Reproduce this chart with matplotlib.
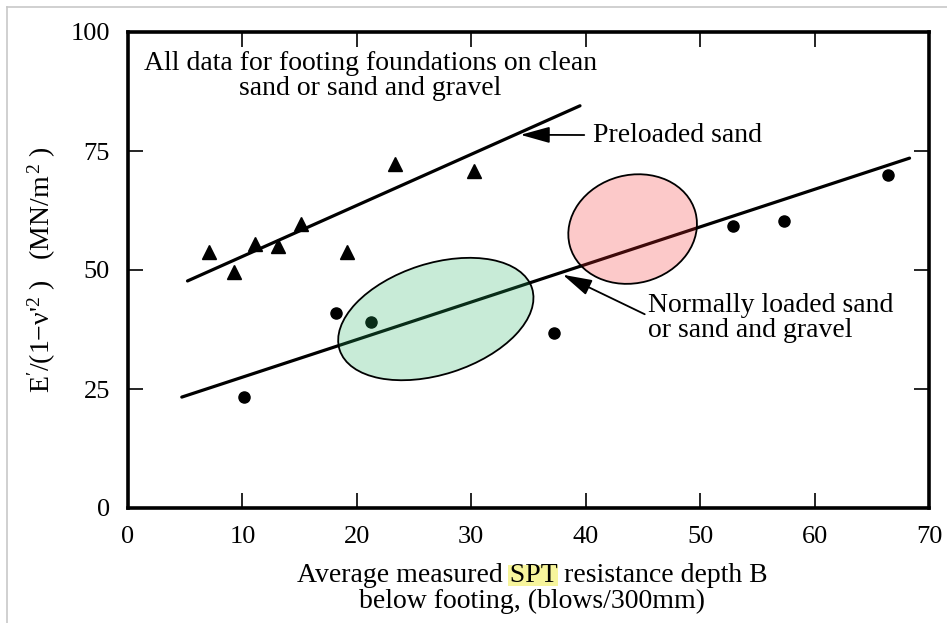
import matplotlib
matplotlib.use("Agg")
import matplotlib.pyplot as plt
from matplotlib.patches import Ellipse, Rectangle
from matplotlib.lines import Line2D
import matplotlib.transforms as mtransforms

plt.rcParams['font.family'] = ['Liberation Serif', 'DejaVu Serif']
plt.rcParams['mathtext.fontset'] = 'custom'
plt.rcParams['mathtext.rm'] = 'Liberation Serif'
plt.rcParams['mathtext.it'] = 'Liberation Serif:italic'

# ---- data ----
pre_spt = [7.1, 9.3, 11.1, 13.1, 15.1, 19.1, 23.3, 30.2]
pre_mod = [53.8, 49.6, 55.5, 55.0, 59.7, 53.8, 72.3, 70.8]
norm_spt = [10.1, 18.2, 21.2, 37.2, 52.9, 57.3, 66.4]
norm_mod = [23.3, 41.0, 39.1, 36.8, 59.2, 60.3, 70.0]
pre_line_x = [5.2, 39.5]
pre_line_y = [47.7, 84.5]
norm_line_x = [4.7, 68.3]
norm_line_y = [23.3, 73.5]
xticks = [0, 10, 20, 30, 40, 50, 60, 70]
yticks = [0, 25, 50, 75, 100]

FS = 20
W, H = 947, 623
fig = plt.figure(figsize=(W / 100, H / 100), dpi=100)
ax = fig.add_axes([128 / W, 1 - 508 / H, (929 - 128) / W, (508 - 32) / H])

ax.plot(pre_line_x, pre_line_y, color='black', lw=2.3, solid_capstyle='round', zorder=2)
ax.plot(norm_line_x, norm_line_y, color='black', lw=2.3, solid_capstyle='round', zorder=2)
ax.plot(pre_spt, pre_mod, linestyle='none', marker='^', color='black', markersize=9.5, zorder=3)
ax.plot(norm_spt, norm_mod, linestyle='none', marker='o', color='black', markersize=8, zorder=3)

# ellipses (sizes in inches, centered on data points)
def add_ellipse(cx, cy, w_in, h_in, ang, color):
    tr = fig.dpi_scale_trans + mtransforms.ScaledTranslation(cx, cy, ax.transData)
    e = Ellipse((0, 0), w_in, h_in, angle=ang, transform=tr,
                facecolor=color, alpha=0.25, edgecolor='none', zorder=4)
    ax.add_patch(e)
    e2 = Ellipse((0, 0), w_in, h_in, angle=ang, transform=tr,
                 facecolor='none', edgecolor='black', lw=1.3, zorder=5)
    ax.add_patch(e2)

add_ellipse(26.9, 39.7, 2.02, 1.11, 17.8, (0.14, 0.70, 0.39))
add_ellipse(44.1, 58.6, 1.30, 1.08, 15.0, (0.97, 0.17, 0.17))

ax.set_xlim(0, 70)
ax.set_ylim(0, 100)
ax.set_xticks(xticks)
ax.set_yticks(yticks)
ax.tick_params(direction='in', length=11, width=1.2, top=True, right=True,
               labelsize=19)
ax.tick_params(axis='y', pad=13)
ax.tick_params(axis='x', pad=13)
for s in ax.spines.values():
    s.set_linewidth(2.6)

# texts
ax.text(21.2, 90.7, "All data for footing foundations on clean\nsand or sand and gravel",
        ha='center', va='center', fontsize=FS, linespacing=1.0)
ax.annotate("Preloaded sand", xy=(34.3, 78.4), xytext=(40.6, 78.3),
            ha='left', va='center', fontsize=FS,
            arrowprops=dict(arrowstyle='-|>,head_length=0.9,head_width=0.25',
                            color='black', lw=1.3, shrinkA=4, shrinkB=0))
ax.annotate("Normally loaded sand\nor sand and gravel", xy=(38.0, 49.0), xytext=(45.4, 39.9),
            ha='left', va='center', fontsize=FS, linespacing=1.0,
            arrowprops=dict(arrowstyle='-|>,head_length=0.9,head_width=0.25',
                            color='black', lw=1.3, shrinkA=0, shrinkB=0,
                            relpos=(0, 0.55)))

ax.set_ylabel(r"E$'$/(1$-$ν$'^{2}$ )   (MN/m$^{\,2}$ )", fontsize=FS, labelpad=9)

# x label with highlighted "SPT"
line1 = "Average measured SPT resistance depth B"
line2 = "below footing, (blows/300mm)"
cx = 532 / W
t1 = fig.text(cx, 1 - 575 / H, line1, ha='center', va='center', fontsize=FS, zorder=3)
fig.text(cx, 1 - 601 / H, line2, ha='center', va='center', fontsize=FS)
fig.canvas.draw()
r = fig.canvas.get_renderer()
bb = t1.get_window_extent(r)
def width(s):
    tt = fig.text(0, 0, s, fontsize=FS)
    w = tt.get_window_extent(r).width
    tt.remove()
    return w
end = bb.x0 + width("Average measured SPT")
start = end - width("SPT")
fig.patches.append(Rectangle((start - 1, bb.y0 + 2), end - start + 2, bb.height - 4,
                             transform=None, facecolor='#f7f59c', edgecolor='none', zorder=1))

# gray frame lines at top and left
fig.add_artist(Line2D([7 / W, 1], [1 - 7 / H, 1 - 7 / H], color='#c8c8c8', lw=1.2))
fig.add_artist(Line2D([7 / W, 7 / W], [0, 1 - 7 / H], color='#c8c8c8', lw=1.2))

fig.savefig("out.png", dpi=100)
